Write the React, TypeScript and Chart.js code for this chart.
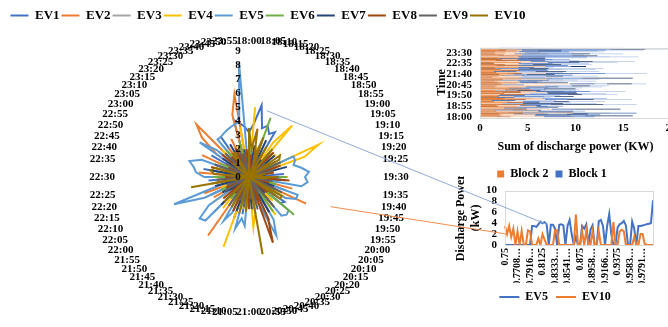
import React, { useEffect, useRef } from 'react';
import { Chart, registerables } from 'chart.js';

Chart.register(...registerables);

const SERIF = "'Liberation Serif', 'Times New Roman', serif";

// Five-minute slots of the evening discharge window
const timeLabels = [
  '18:00', '18:05', '18:10', '18:15', '18:20', '18:25', '18:30', '18:35', '18:40', '18:45', '18:50', '18:55',
  '19:00', '19:05', '19:10', '19:15', '19:20', '19:25', '19:30', '19:35', '19:40', '19:45', '19:50', '19:55',
  '20:00', '20:05', '20:10', '20:15', '20:20', '20:25', '20:30', '20:35', '20:40', '20:45', '20:50', '20:55',
  '21:00', '21:05', '21:10', '21:15', '21:20', '21:25', '21:30', '21:35', '21:40', '21:45', '21:50', '21:55',
  '22:00', '22:05', '22:10', '22:15', '22:20', '22:25', '22:30', '22:35', '22:40', '22:45', '22:50', '22:55',
  '23:00', '23:05', '23:10', '23:15', '23:20', '23:25', '23:30', '23:35', '23:40', '23:45', '23:50', '23:55',
];

// Same slots written as fractions of a day (every 30 minutes)
const dayFractionLabels = [
  '0.75', '0.7708…', '0.7916…', '0.8125', '0.8333…', '0.8541…',
  '0.875', '0.8958…', '0.9166…', '0.9375', '0.9583…', '0.9791…',
];

// Radial axis ticks (kW)
const radialTicks = [0, 1, 2, 3, 4, 5, 6, 7, 8, 9];

// Discharge power per EV (kW)
const ev1 = [
  3.2, 3.8, 5.2, 3.6, 3.9, 3.4, 3.7, 0, 2.4, 0, 1.8, 0,
  2.2, 0, 0, 1.6, 0, 2.5, 0, 0, 1.9, 0, 2.8, 0,
  0, 3.1, 2.9, 0, 0, 2.2, 0, 3.4, 0, 0, 2.6, 0,
  1.8, 0, 2.7, 0, 3.2, 0, 0, 2.1, 0, 3.6, 0, 2.4,
  0, 3.0, 0, 1.7, 0, 2.9, 0, 0, 3.3, 0, 2.6, 0,
  3.1, 0, 2.8, 0, 0, 3.5, 0, 2.2, 0, 4.2, 3.9, 3.6,
];
const ev2 = [
  2.1, 0, 1.6, 0, 2.8, 0, 0, 1.9, 0, 2.4, 0, 1.2,
  0, 2.6, 0, 0, 1.8, 0, 2.3, 0, 0, 3.2, 0, 4.5,
  0, 0, 2.7, 0, 1.5, 0, 2.9, 0, 0, 2.2, 0, 1.7,
  0, 2.5, 0, 0, 3.1, 0, 0, 5.1, 0, 2.6, 0, 0,
  2.9, 0, 3.4, 0, 0, 2.3, 0, 3.6, 0, 1.9, 0, 3.7,
  0, 2.8, 4.4, 5.3, 0, 2.5, 0, 3.0, 0, 4.6, 6.0, 0,
];
const ev3 = [
  0, 1.5, 0, 2.0, 0, 0, 1.2, 0, 0, 2.4, 0, 1.6,
  0, 0, 2.1, 0, 1.4, 0, 0, 2.6, 0, 1.1, 0, 0,
  1.9, 0, 0, 2.3, 0, 1.5, 0, 0, 2.8, 0, 1.3, 0,
  0, 2.2, 0, 1.7, 0, 0, 2.5, 0, 1.4, 0, 0, 2.0,
  0, 1.6, 0, 0, 2.7, 0, 1.2, 0, 0, 2.1, 0, 1.8,
  0, 0, 2.4, 0, 3.0, 0, 1.5, 0, 2.2, 0, 0, 1.3,
];
const ev4 = [
  0, 5.0, 0, 2.2, 0, 1.8, 0, 3.0, 4.8, 0, 2.5, 0,
  0, 5.5, 4.2, 0, 1.6, 0, 2.8, 0, 0, 2.0, 0, 1.5,
  3.1, 0, 0, 2.4, 0, 3.3, 0, 0, 1.9, 0, 2.6, 3.6,
  0, 0, 2.3, 0, 5.3, 0, 1.8, 0, 2.9, 0, 0, 3.2,
  0, 0, 2.1, 0, 1.6, 0, 3.0, 0, 0, 2.5, 0, 0,
  1.8, 0, 0, 2.7, 0, 1.9, 0, 0, 2.4, 0, 3.6, 0,
];
const ev5 = [
  0, 0, 0, 0, 0, 0, 0, 0, 0, 0, 0, 0,
  0, 3.5, 3.5, 3.3, 3.8, 4.3, 4.0, 4.2, 3.8, 0, 3.7, 3.7,
  3.0, 0, 3.7, 3.8, 3.6, 0, 3.5, 4.6, 2.0, 0, 1.5, 0,
  0, 3.5, 3.0, 3.8, 0, 2.8, 3.6, 0, 0, 4.4, 4.6, 3.5,
  0, 3.5, 5.7, 2.0, 0, 0, 3.2, 3.8, 4.0, 4.4, 3.6, 0,
  0, 4.3, 3.0, 0, 3.5, 3.5, 3.6, 3.7, 3.8, 3.9, 4.0, 8.2,
];
const ev6 = [
  0, 2.1, 0, 0, 4.5, 0, 1.7, 0, 2.6, 0, 0, 1.9,
  0, 2.3, 0, 0, 1.5, 0, 2.7, 0, 0, 2.0, 0, 0,
  2.5, 0, 4.2, 0, 0, 3.0, 0, 1.6, 0, 0, 2.2, 0,
  1.9, 0, 0, 2.4, 0, 1.3, 0, 0, 2.0, 0, 1.7, 0,
  0, 2.2, 0, 1.5, 0, 0, 2.6, 0, 1.4, 0, 0, 2.3,
  0, 1.8, 0, 0, 2.5, 0, 0, 1.6, 0, 2.7, 0, 0,
];
const ev7 = [
  1.8, 0, 2.3, 0, 0, 2.9, 0, 1.5, 0, 0, 2.4, 0,
  1.7, 0, 0, 2.8, 0, 1.2, 0, 2.6, 0, 0, 1.9, 0,
  0, 2.4, 0, 1.6, 0, 0, 2.9, 0, 1.8, 0, 0, 2.3,
  0, 1.5, 0, 0, 2.6, 0, 1.9, 0, 0, 2.8, 0, 1.4,
  2.2, 0, 0, 2.5, 0, 1.7, 0, 0, 2.9, 0, 1.6, 0,
  0, 2.3, 0, 1.9, 0, 0, 2.7, 0, 1.8, 0, 2.0, 0,
];
const ev8 = [
  0, 1.6, 0, 0, 2.2, 0, 1.9, 0, 0, 2.5, 0, 1.3,
  0, 0, 2.4, 0, 1.8, 0, 0, 2.9, 0, 1.5, 0, 2.1,
  0, 0, 1.7, 0, 2.6, 0, 0, 3.2, 5.0, 0, 1.6, 0,
  2.3, 0, 0, 1.9, 0, 2.7, 0, 0, 1.5, 0, 2.4, 0,
  0, 1.8, 0, 0, 2.6, 0, 1.7, 0, 0, 2.8, 0, 1.6,
  0, 0, 2.5, 0, 1.9, 0, 0, 2.3, 0, 1.7, 0, 2.0,
];
const ev9 = [
  1.4, 0, 0, 2.0, 0, 1.6, 0, 0, 2.3, 0, 1.5, 0,
  0, 2.5, 0, 1.8, 0, 0, 2.1, 0, 1.7, 0, 0, 2.6,
  0, 1.9, 0, 0, 2.8, 0, 1.4, 0, 0, 2.4, 0, 1.6,
  0, 0, 2.2, 0, 1.8, 0, 0, 2.5, 0, 1.6, 0, 0,
  2.0, 0, 1.7, 0, 0, 2.3, 0, 1.5, 0, 0, 2.6, 0,
  1.9, 0, 0, 2.4, 0, 1.6, 0, 0, 2.1, 0, 1.8, 0,
];
const ev10 = [
  3.5, 2.0, 3.5, 1.5, 3.0, 0, 2.5, 0, 2.6, 0, 0, 2.7,
  2.5, 0, 0, 0, 1.2, 0, 2.0, 1.0, 0, 0, 0, 0,
  2.7, 2.7, 0, 0, 0, 0, 0, 0, 0, 0, 5.6, 0,
  0, 2.5, 0, 2.7, 0, 0, 2.5, 0, 0, 2.5, 0, 0,
  0, 0, 0, 0, 4.2, 0, 0, 2.5, 2.8, 2.5, 0, 0,
  0, 0, 1.5, 0, 0, 2.0, 2.0, 0.2, 0, 0, 0, 0,
];

const evNames = ['EV1', 'EV2', 'EV3', 'EV4', 'EV5', 'EV6', 'EV7', 'EV8', 'EV9', 'EV10'];
const evValues = [ev1, ev2, ev3, ev4, ev5, ev6, ev7, ev8, ev9, ev10];
const evColors = ['#4472C4', '#ED7D31', '#A5A5A5', '#FFC000', '#5B9BD5', '#70AD47', '#264478', '#9E480E', '#636363', '#997300'];

// Charging blocks: block 1 holds EV1–EV5, block 2 holds EV6–EV10
const blockNames = ['Block 2', 'Block 1'];
const blockColors = ['#ED7D31', '#4472C4'];
const blockMembers = [[5, 6, 7, 8, 9], [0, 1, 2, 3, 4]];
const blockShades = [
  ['#C55A11', '#ED7D31', '#F4B183', '#A9501A', '#F8CBAD'],
  ['#2F5597', '#4472C4', '#8FAADC', '#203864', '#B4C7E7'],
];

// Detail panel: two EVs shown as time series
const detailSeries = [4, 9];
const detailColors = ['#4472C4', '#ED7D31'];

// Leader lines from the radar to the detail panel (slot index / kW)
const leaders = [
  { radarIndex: 3, radarValue: 4.9, series: 0, slot: 20, color: '#8FAADC' },
  { radarIndex: 22, radarValue: 6.2, series: 1, slot: 1, color: '#F08C50' },
];

const RADAR = { left: 0, top: 0, width: 536, height: 327, cx: 249, cy: 177, r: 126 };
const BAR = { left: 425, top: 33, width: 265, height: 157 };
const LINE = { left: 452, top: 176, width: 216, height: 137 };

const boldFont = (size: number) => ({ family: SERIF, size, weight: 'bold' as const });
const noGrid = { display: false, drawTicks: false };

const plotFrame = {
  id: 'plotFrame',
  afterDraw(chart: any) {
    const { ctx, chartArea: a } = chart;
    ctx.save();
    ctx.strokeStyle = '#D9D9D9';
    ctx.lineWidth = 1;
    ctx.strokeRect(Math.round(a.left) + 0.5, Math.round(a.top) + 0.5, Math.round(a.right - a.left), Math.round(a.bottom - a.top));
    ctx.restore();
  },
};

export default function App() {
  const radarRef = useRef<HTMLCanvasElement>(null);
  const barRef = useRef<HTMLCanvasElement>(null);
  const lineRef = useRef<HTMLCanvasElement>(null);
  const overlayRef = useRef<HTMLCanvasElement>(null);

  useEffect(() => {
    const radar = new Chart(radarRef.current!, {
      type: 'radar',
      data: {
        labels: timeLabels,
        datasets: evNames.map((name, i) => ({
          label: name,
          data: evValues[i],
          borderColor: evColors[i],
          backgroundColor: evColors[i],
          borderWidth: 2,
          pointRadius: 0,
          fill: false,
          order: evNames.length - i,
        })),
      },
      options: {
        animation: false,
        responsive: false,
        layout: { padding: { top: 7 } },
        plugins: {
          legend: {
            position: 'top',
            labels: {
              usePointStyle: true,
              pointStyle: 'line',
              pointStyleWidth: 18,
              padding: 2,
              color: '#000',
              font: boldFont(13),
              sort: (a: any, b: any) => a.datasetIndex - b.datasetIndex,
            },
          },
          tooltip: { enabled: false },
        },
        scales: {
          r: {
            min: -1e-9,
            max: 9,
            grid: { display: false },
            angleLines: { display: false },
            ticks: {
              z: 1,
              autoSkip: false,
              showLabelBackdrop: false,
              color: '#000',
              font: boldFont(11),
              // trailing spaces keep the numbers just left of the vertical axis
              callback: (v: any) => `${Math.round(v)}        `,
            },
            afterBuildTicks: (s: any) => {
              s.ticks = radialTicks.map((value) => ({ value }));
            },
            pointLabels: {
              color: '#000',
              font: boldFont(11),
              padding: (ctx: any) => {
                const a = (ctx.index / timeLabels.length) * Math.PI * 2;
                return -4.5 + 5 * Math.abs(Math.sin(a));
              },
            },
            afterSetDimensions: (s: any) => {
              s.left = 0;
              s.top = 0;
              s.right = RADAR.width;
              s.bottom = RADAR.height;
              s.xCenter = RADAR.cx - RADAR.left;
              s.yCenter = RADAR.cy - RADAR.top;
              s.drawingArea = RADAR.r;
            },
          } as any,
        },
      },
    });

    const bar = new Chart(barRef.current!, {
      type: 'bar',
      data: {
        labels: timeLabels,
        datasets: blockMembers.flatMap((members, b) =>
          members.map((ev, k) => ({
            label: evNames[ev],
            data: evValues[ev],
            backgroundColor: blockShades[b][k],
            borderWidth: 0,
            barPercentage: 1,
            categoryPercentage: 0.8,
          }))
        ),
      },
      options: {
        animation: false,
        responsive: false,
        indexAxis: 'y',
        layout: { padding: { left: 8, right: 19, top: 12 } },
        plugins: {
          legend: {
            position: 'bottom',
            labels: {
              boxWidth: 7,
              boxHeight: 7,
              padding: 7,
              color: '#000',
              font: boldFont(12),
              generateLabels: () =>
                blockNames.map((name, i) => ({
                  text: name,
                  fillStyle: blockColors[i],
                  strokeStyle: blockColors[i],
                  lineWidth: 0,
                  hidden: false,
                  datasetIndex: i,
                })),
            },
          },
          tooltip: { enabled: false },
        },
        scales: {
          x: {
            stacked: true,
            min: 0,
            max: 20,
            grid: noGrid,
            border: { display: false },
            ticks: { stepSize: 5, color: '#000', font: boldFont(11), padding: 4 },
            title: { display: true, text: 'Sum of discharge power (KW)', color: '#000', font: boldFont(12), padding: { top: 1, bottom: 7 } },
          },
          y: {
            stacked: true,
            reverse: true,
            grid: noGrid,
            border: { display: false },
            ticks: {
              autoSkip: false,
              color: '#000',
              font: boldFont(11),
              padding: 8,
              callback: (_v: any, i: number) => (i % 11 === 0 ? timeLabels[i] : ''),
            },
            title: { display: true, text: 'Time', color: '#000', font: boldFont(12), padding: { top: 2, bottom: 0 } },
            afterFit: (axis: any) => {
              axis.width = 47;
            },
          },
        },
      },
      plugins: [plotFrame],
    });

    const line = new Chart(lineRef.current!, {
      type: 'line',
      data: {
        labels: timeLabels,
        datasets: detailSeries.map((ev, i) => ({
          label: evNames[ev],
          data: evValues[ev],
          borderColor: detailColors[i],
          backgroundColor: detailColors[i],
          borderWidth: 2,
          pointRadius: 0,
          tension: 0,
          order: detailSeries.length - i,
        })),
      },
      options: {
        animation: false,
        responsive: false,
        layout: { padding: { right: 10, top: 9 } },
        plugins: {
          legend: {
            position: 'bottom',
            labels: {
              usePointStyle: true,
              pointStyle: 'line',
              pointStyleWidth: 20,
              padding: 8,
              color: '#000',
              font: boldFont(12),
              sort: (a: any, b: any) => a.datasetIndex - b.datasetIndex,
            },
          },
          tooltip: { enabled: false },
        },
        scales: {
          x: {
            grid: noGrid,
            border: { display: false },
            ticks: {
              autoSkip: false,
              minRotation: 90,
              maxRotation: 90,
              color: '#000',
              font: boldFont(10),
              padding: 3,
              callback: (_v: any, i: number) => (i % 6 === 0 ? dayFractionLabels[i / 6] : ''),
            },
            afterFit: (axis: any) => {
              axis.height = 38;
            },
          },
          y: {
            min: 0,
            max: 10,
            grid: noGrid,
            border: { display: false },
            ticks: { stepSize: 2, autoSkip: false, color: '#000', font: boldFont(11), padding: 8 },
            title: { display: true, text: ['Discharge Power', '(kW)'], color: '#000', font: boldFont(12), padding: { top: 2, bottom: 0 } },
            afterFit: (axis: any) => {
              axis.width = 53;
            },
          },
        },
      },
      plugins: [plotFrame],
    });

    // Leader lines drawn across the charts, anchored through each chart's scales
    const ov = overlayRef.current!;
    const ctx = ov.getContext('2d')!;
    ctx.clearRect(0, 0, ov.width, ov.height);
    const rScale: any = radar.scales.r;
    leaders.forEach((l) => {
      const p = rScale.getPointPositionForValue(l.radarIndex, l.radarValue);
      const ev = detailSeries[l.series];
      const x2 = line.scales.x.getPixelForValue(l.slot) + LINE.left;
      const y2 = line.scales.y.getPixelForValue(evValues[ev][l.slot]) + LINE.top;
      ctx.beginPath();
      ctx.strokeStyle = l.color;
      ctx.lineWidth = 1;
      ctx.moveTo(p.x + RADAR.left, p.y + RADAR.top);
      ctx.lineTo(x2, y2);
      ctx.stroke();
    });

    return () => {
      radar.destroy();
      bar.destroy();
      line.destroy();
    };
  }, []);

  const abs = (b: { left: number; top: number; width: number; height: number }): React.CSSProperties => ({
    position: 'absolute',
    left: b.left,
    top: b.top,
    width: b.width,
    height: b.height,
  });

  return (
    <div style={{ position: 'absolute', left: 0, top: 0, width: 668, height: 327, overflow: 'hidden', background: '#fff' }}>
      <canvas ref={radarRef} width={RADAR.width} height={RADAR.height} style={abs(RADAR)} />
      <canvas ref={barRef} width={BAR.width} height={BAR.height} style={abs(BAR)} />
      <canvas ref={lineRef} width={LINE.width} height={LINE.height} style={abs(LINE)} />
      <canvas ref={overlayRef} width={668} height={327} style={{ ...abs({ left: 0, top: 0, width: 668, height: 327 }), pointerEvents: 'none' }} />
    </div>
  );
}
